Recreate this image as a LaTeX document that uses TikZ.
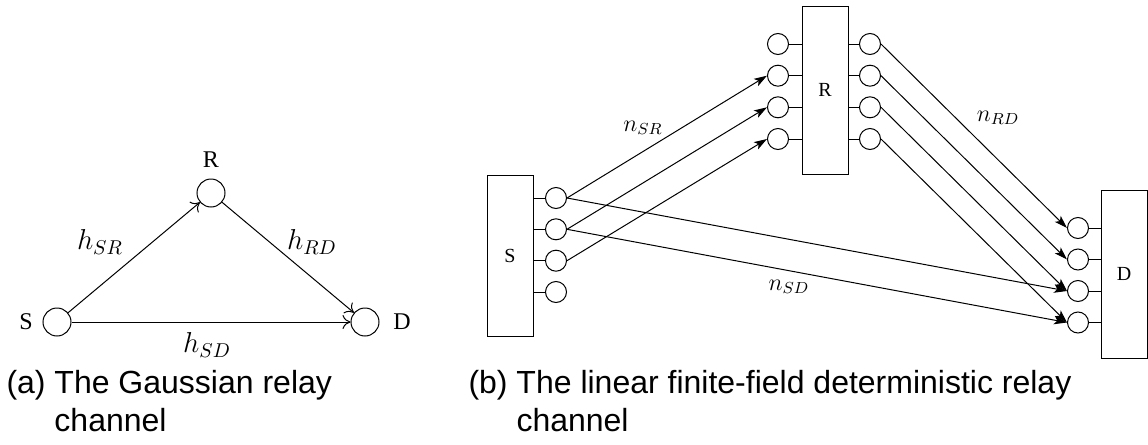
\documentclass[tikz,border=0pt]{standalone}
\usepackage{fontspec}
\setmainfont{Liberation Serif}
\newfontfamily\capfont{Liberation Sans}
\usetikzlibrary{arrows.meta}

\begin{document}
\begin{tikzpicture}[x=0.5pt,y=-0.5pt,line width=0.5pt,
  bignode/.style={circle,draw,minimum size=14pt,inner sep=0pt},
  port/.style={circle,draw,minimum size=10.5pt,inner sep=0pt},
  block/.style={draw,rectangle,inner sep=0pt,minimum width=23pt,
    font=\fontsize{10}{12}\selectfont},
  gauss/.style={-{To[length=4pt,width=7pt]}},
  det/.style={-{Stealth[length=6.5pt,width=4.2pt,inset=1.6pt]}},
  gname/.style={font=\fontsize{12}{14}\selectfont,inner sep=0pt},
  glabel/.style={font=\fontsize{14.4}{17}\selectfont,inner sep=0pt},
  dlabel/.style={font=\fontsize{12}{14}\selectfont,inner sep=0pt},
  caption/.style={font=\capfont\fontsize{16}{19}\selectfont,inner sep=0pt,anchor=base west}]

\useasboundingbox (0,0) rectangle (1148,445);

% ---------- Gaussian relay channel ----------
\node[bignode] (gs) at (57,322) {};
\node[bignode] (gr) at (211,193) {};
\node[bignode] (gd) at (365,322) {};
\node[gname] (gsl) at (26,322) {S};
\node[gname] (grl) at (211,160) {R};
\node[gname] (gdl) at (402,322) {D};
\draw[gauss] (gs) -- (gr);
\draw[gauss] (gr) -- (gd);
\draw[gauss] (gs.east) -- (gd.west);
\node[glabel] (hsr) at (100,242) {$h_{SR}$};
\node[glabel] (hrd) at (312,242) {$h_{RD}$};
\node[glabel] (hsd) at (207,345) {$h_{SD}$};

% ---------- linear deterministic relay channel ----------
\node[block,minimum height=80.5pt] (sb) at (510,255.5) {S};
\node[block,minimum height=84pt] (rb) at (825,90) {R};
\node[block,minimum height=84pt] (db) at (1124,274) {D};

\foreach \i/\y in {1/198,2/229.3,3/260.7,4/292} {
  \node[port] (s\i) at (556,\y) {};
  \draw (sb.east |- s\i) -- (s\i.west);
}
\foreach \i/\y in {1/44,2/75.7,3/107.3,4/139} {
  \node[port] (ri\i) at (778,\y) {};
  \draw (ri\i.east) -- (rb.west |- ri\i);
  \node[port] (ro\i) at (870,\y) {};
  \draw (rb.east |- ro\i) -- (ro\i.west);
}
\foreach \i/\y in {1/228,2/259.5,3/291,4/322.5} {
  \node[port] (d\i) at (1078,\y) {};
  \draw (d\i.east) -- (db.west |- d\i);
}

% source to relay
\draw[det] (s1.east) -- (ri2.west);
\draw[det] (s2.east) -- (ri3.west);
\draw[det] (s3.east) -- (ri4.west);
% source to destination
\draw[det] (s1.east) -- (d3.west);
\draw[det] (s2.east) -- (d4.west);
% relay to destination
\foreach \i in {1,2,3,4} {
  \draw[det] (ro\i.east) -- (d\i.west);
}

\node[dlabel] (nsr) at (643,128) {$n_{SR}$};
\node[dlabel] (nrd) at (998,118) {$n_{RD}$};
\node[dlabel] (nsd) at (789,287) {$n_{SD}$};

% ---------- captions ----------
\node[caption] (capa) at (6,393)
  {(a) \begin{tabular}[t]{@{}l@{}}The Gaussian relay\\channel\end{tabular}};
\node[caption] (capb) at (468,393)
  {(b) \begin{tabular}[t]{@{}l@{}}The linear finite-field deterministic relay\\channel\end{tabular}};
\end{tikzpicture}
\end{document}
